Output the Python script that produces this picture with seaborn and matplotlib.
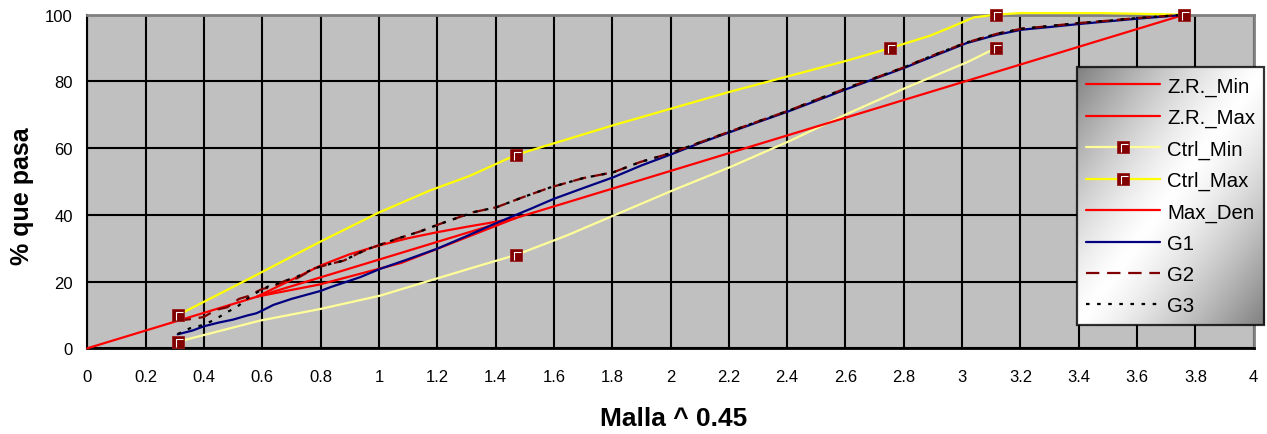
import numpy as np
import pandas as pd
import matplotlib
matplotlib.use("Agg")
import matplotlib.pyplot as plt
import seaborn as sns
from matplotlib.path import Path
from matplotlib.lines import Line2D
from matplotlib.legend_handler import HandlerTuple

# ---------------- data ----------------
zr_min_x = [0.582, 0.795, 1.077, 1.471]
zr_min_y = [15.5, 19.1, 25.6, 39.1]

zr_max_x = [0.582, 0.70, 0.80, 0.90, 1.00, 1.10, 1.20, 1.30, 1.40, 1.471]
zr_max_y = [15.5, 20.5, 24.8, 28.2, 30.8, 33.0, 34.8, 36.4, 37.9, 39.1]

ctrl_min_x = [0.312, 0.592, 0.80, 1.005, 1.175, 1.346, 1.471, 1.644, 1.805, 2.004,
              2.204, 2.41, 2.604, 2.81, 3.016, 3.116]
ctrl_min_y = [2.0, 8.3, 11.8, 15.8, 20.3, 24.8, 28.0, 33.8, 39.8, 47.2,
              54.3, 62.2, 70.2, 78.2, 85.7, 90.0]
ctrl_min_pts_x = [0.312, 1.471, 3.116]
ctrl_min_pts_y = [2.0, 28.0, 90.0]

ctrl_max_x = [0.312, 0.558, 0.80, 1.00, 1.175, 1.312, 1.471, 1.805, 2.204, 2.604,
              2.754, 2.89, 2.96, 3.04, 3.116, 3.20, 3.475, 3.762]
ctrl_max_y = [10.0, 21.0, 32.0, 40.7, 47.3, 51.7, 58.0, 66.9, 76.9, 86.2,
              90.0, 93.7, 96.2, 99.2, 100.0, 100.5, 100.5, 100.0]
ctrl_max_pts_x = [0.312, 1.471, 2.754, 3.116, 3.762]
ctrl_max_pts_y = [10.0, 58.0, 90.0, 100.0, 100.0]

max_den_x = [0.0, 3.762]
max_den_y = [0.0, 100.0]

g1_x = [0.31, 0.36, 0.40, 0.45, 0.50, 0.547, 0.58, 0.604, 0.638, 0.70, 0.80, 0.833,
        0.935, 1.004, 1.10, 1.198, 1.30, 1.404, 1.52, 1.60, 1.70, 1.805, 1.90, 2.004,
        2.10, 2.204, 2.30, 2.41, 2.50, 2.604, 2.70, 2.80, 2.90, 3.016, 3.12, 3.204,
        3.30, 3.40, 3.50, 3.60, 3.70, 3.762]
g1_y = [4.2, 5.3, 6.6, 7.7, 8.6, 9.8, 10.5, 11.5, 13.0, 14.8, 17.2, 18.3,
        21.3, 23.8, 26.7, 29.8, 33.6, 37.6, 41.8, 44.8, 48.0, 51.3, 54.8, 58.2,
        61.5, 64.8, 67.8, 71.2, 74.2, 77.7, 80.8, 84.0, 87.5, 91.5, 94.0, 95.5,
        96.3, 97.2, 98.0, 98.8, 99.5, 100.0]

g2_x = [0.31, 0.36, 0.40, 0.44, 0.48, 0.52, 0.55, 0.60, 0.63, 0.68, 0.72, 0.78,
        0.833, 0.88, 0.93, 0.97, 1.061, 1.14, 1.21, 1.324, 1.404, 1.494, 1.587,
        1.70, 1.805, 1.895, 2.004, 2.10, 2.204, 2.30, 2.41, 2.50, 2.604, 2.70,
        2.80, 2.90, 3.016, 3.12, 3.204, 3.30, 3.40, 3.50, 3.60, 3.70, 3.762]
g2_y = [8.3, 8.8, 9.4, 11.5, 12.3, 14.8, 15.6, 17.8, 18.3, 20.3, 21.0, 24.0,
        25.3, 26.3, 28.5, 30.0, 32.8, 35.0, 37.3, 40.8, 42.3, 45.3, 48.2,
        51.0, 52.8, 55.8, 58.6, 61.7, 65.0, 68.0, 71.4, 74.5, 78.0, 81.0,
        84.2, 87.8, 91.7, 94.3, 95.8, 96.6, 97.5, 98.2, 99.0, 99.6, 100.0]

g3_x = [0.31, 0.352, 0.397, 0.438, 0.478, 0.512, 0.547, 0.592, 0.626, 0.671, 0.72,
        0.78, 0.833, 0.88, 0.93, 0.97, 1.061, 1.14, 1.21, 1.324, 1.404, 1.494,
        1.587, 1.70, 1.805, 1.895, 2.004, 2.10, 2.204, 2.30, 2.41, 2.50, 2.604,
        2.70, 2.80, 2.90, 3.016, 3.12, 3.204, 3.30, 3.40, 3.50, 3.60, 3.70, 3.762]
g3_y = [4.3, 6.0, 7.0, 8.6, 10.8, 12.3, 14.8, 17.3, 18.8, 20.0, 21.5,
        24.0, 25.3, 26.3, 28.5, 30.0, 32.8, 35.0, 37.3, 40.8, 42.3, 45.3,
        48.2, 51.0, 52.8, 55.8, 58.6, 61.7, 65.0, 68.0, 71.4, 74.5, 78.0,
        81.0, 84.2, 87.8, 91.7, 94.3, 95.8, 96.6, 97.5, 98.2, 99.0, 99.6, 100.0]

x_ticks = [0, 0.2, 0.4, 0.6, 0.8, 1, 1.2, 1.4, 1.6, 1.8, 2, 2.2, 2.4, 2.6, 2.8, 3,
           3.2, 3.4, 3.6, 3.8, 4]
x_tick_labels = ["0", "0.2", "0.4", "0.6", "0.8", "1", "1.2", "1.4", "1.6", "1.8", "2",
                 "2.2", "2.4", "2.6", "2.8", "3", "3.2", "3.4", "3.6", "3.8", "4"]
y_ticks = [0, 20, 40, 60, 80, 100]
y_tick_labels = ["0", "20", "40", "60", "80", "100"]

legend_labels = ["Z.R._Min", "Z.R._Max", "Ctrl_Min", "Ctrl_Max", "Max_Den", "G1", "G2", "G3"]

x_label = "Malla ^ 0.45"
y_label = "% que pasa"

# ---------------- style ----------------
sns.set_style("white")
plt.rcParams["font.family"] = ["Liberation Sans", "DejaVu Sans"]
plt.rcParams["text.color"] = "black"
plt.rcParams["axes.labelcolor"] = "black"

RED = "#FF0000"
LYEL = "#FFFF99"
YEL = "#FFFF00"
NAVY = "#000080"
DRED = "#800000"

W, H = 1267, 435
fig = plt.figure(figsize=(W / 100, H / 100), dpi=100)
ax_left, ax_right = 87.3 / W, 1253.7 / W
ax_top, ax_bot = 1 - 15.7 / H, 1 - 349.3 / H
ax = fig.add_axes([ax_left, ax_bot, ax_right - ax_left, ax_top - ax_bot])
ax.set_facecolor("#C0C0C0")

LW = 1.6
common = dict(ax=ax, sort=False, estimator=None, legend=False, clip_on=False)
sns.lineplot(x=zr_min_x, y=zr_min_y, color=RED, lw=LW, zorder=3, **common)
sns.lineplot(x=zr_max_x, y=zr_max_y, color=RED, lw=LW, zorder=3, **common)
sns.lineplot(x=ctrl_min_x, y=ctrl_min_y, color=LYEL, lw=LW, zorder=3, **common)
sns.lineplot(x=ctrl_max_x, y=ctrl_max_y, color=YEL, lw=LW, zorder=3, **common)
sns.lineplot(x=max_den_x, y=max_den_y, color=RED, lw=LW, zorder=3, **common)
sns.lineplot(x=g1_x, y=g1_y, color=NAVY, lw=LW, zorder=4, **common)
G2_LS = (0, (6, 3.5))
G3_LS = (0, (1.6, 3.4))
sns.lineplot(x=g2_x, y=g2_y, color=DRED, lw=LW, linestyle=G2_LS, zorder=4, **common)
sns.lineplot(x=g3_x, y=g3_y, color="black", lw=LW, linestyle=G3_LS, zorder=4, **common)

# control point markers (square with white highlight corner)
hl_path = Path([(-0.25, -0.5), (-0.25, 0.35), (0.5, 0.35)],
               [Path.MOVETO, Path.LINETO, Path.LINETO])
MS = 8.5
mk = dict(ls="none", marker="s", ms=MS, mfc=DRED, mec="#9A1C1C", mew=0.6,
          clip_on=False, zorder=6)
hk = dict(ls="none", marker=hl_path, ms=MS * 0.8, mfc="none", mec="white", mew=0.8,
          clip_on=False, zorder=7)
for px, py in [(ctrl_min_pts_x, ctrl_min_pts_y), (ctrl_max_pts_x, ctrl_max_pts_y)]:
    ax.plot(px, py, **mk)
    ax.plot(px, py, **hk)

# axes
ax.set_xlim(0, 4)
ax.set_ylim(0, 100)
ax.set_xticks(x_ticks)
ax.set_xticklabels(x_tick_labels)
ax.set_yticks(y_ticks)
ax.set_yticklabels(y_tick_labels)
ax.set_axisbelow(True)
ax.grid(True, color="black", lw=1.5)
ax.tick_params(axis="both", direction="out", length=5, width=1.3, color="black",
               labelsize=12, labelcolor="black")
ax.tick_params(axis="x", pad=10)
ax.tick_params(axis="y", pad=5.5)
for s in ["top", "right"]:
    ax.spines[s].set_color("#808080")
    ax.spines[s].set_linewidth(2)
ax.spines["left"].set_color("black")
ax.spines["left"].set_linewidth(1.5)
ax.spines["bottom"].set_color("black")
ax.spines["bottom"].set_linewidth(2)

ax.set_xlabel(x_label, fontsize=19, fontweight="bold", color="black")
ax.set_ylabel(y_label, fontsize=18, fontweight="bold", color="black")
ax.xaxis.set_label_coords(673.9 / W, 1 - 419 / H, transform=fig.transFigure)
ax.xaxis.label.set_va("center")
ax.yaxis.set_label_coords(22 / W, 1 - 195.7 / H, transform=fig.transFigure)
ax.yaxis.label.set_va("center")

# legend
def prox(color, ls="-", marker=False):
    line = Line2D([0], [0], color=color, lw=LW, linestyle=ls)
    if not marker:
        return line
    m = Line2D([0], [0], **{k: v for k, v in mk.items() if k not in ("clip_on", "zorder")})
    h = Line2D([0], [0], **{k: v for k, v in hk.items() if k not in ("clip_on", "zorder")})
    return (line, m, h)

handles = [prox(RED), prox(RED), prox(LYEL, marker=True), prox(YEL, marker=True),
           prox(RED), prox(NAVY), prox(DRED, G2_LS), prox("black", G3_LS)]
leg = fig.legend(handles, legend_labels, loc="upper left",
                 bbox_to_anchor=(1076.7 / W, 1 - 68.3 / H), bbox_transform=fig.transFigure,
                 fontsize=14.7, frameon=True, fancybox=False, edgecolor="black",
                 facecolor="none", framealpha=None, handlelength=3.65, handletextpad=0.33,
                 labelspacing=0.6, borderpad=0.45, borderaxespad=0,
                 handler_map={tuple: HandlerTuple(ndivide=1, pad=0)})
leg.get_frame().set_linewidth(1.6)
leg.set_zorder(10)
for t in leg.get_texts():
    t.set_color("black")

fig.canvas.draw()
bb = leg.get_frame().get_window_extent().transformed(fig.transFigure.inverted())
gax = fig.add_axes([bb.x0, bb.y0, bb.width, bb.height], zorder=1)
gw, gh = 200, 260
u = np.linspace(0, 1, gw)[None, :]
v = np.linspace(0, 1, gh)[:, None]
d = np.abs(u + v - 1.0)
gray = 1.0 - 0.5 * d ** 1.3
gax.imshow(np.dstack([gray, gray, gray]), aspect="auto", extent=(0, 1, 0, 1),
           interpolation="bilinear")
gax.set_axis_off()

fig.savefig("out.png", dpi=100)
